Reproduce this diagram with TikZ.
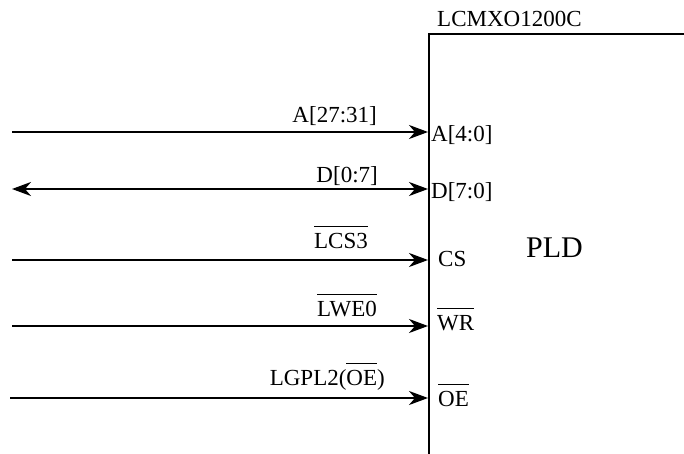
\documentclass[tikz,border=0pt]{standalone}
\usepackage{fontspec}
\setmainfont{Liberation Serif}
\usetikzlibrary{arrows.meta}
\newcommand\ovl[1]{\leavevmode\vbox{\hrule height 1.7pt\kern 5.5pt\hbox{#1}}}
\tikzset{
  tip/.tip={Stealth[length=19pt,width=14pt,inset=6pt]},
  sig/.style={line width=2.2pt,-tip},
  bisig/.style={line width=2.2pt,tip-tip},
  lbl/.style={inner sep=0pt,anchor=base east,font=\fontsize{23}{27}\selectfont},
  pin/.style={inner sep=0pt,anchor=base west,font=\fontsize{23}{27}\selectfont},
  chip/.style={line width=2.8pt}
}
\begin{document}
\begin{tikzpicture}[x=1pt,y=-1pt]
\useasboundingbox (0,0) rectangle (684,454);
% chip outline
\coordinate (bt) at (429,454);
\coordinate (tl) at (429,34);
\coordinate (tr) at (684,34);
\draw[chip] (bt) -- (tl) -- (tr);
\node[pin] (chipname) at (437,27) {LCMXO1200C};
\node[inner sep=0pt,anchor=base west,font=\fontsize{30}{34}\selectfont] (pld) at (526,257) {PLD};
% signal end points
\coordinate (sA) at (12,132); \coordinate (eA) at (428,132);
\coordinate (sD) at (12,189); \coordinate (eD) at (428,189);
\coordinate (sC) at (12,260); \coordinate (eC) at (428,260);
\coordinate (sW) at (12,326); \coordinate (eW) at (428,326);
\coordinate (sO) at (10,398); \coordinate (eO) at (428,398);
\draw[sig] (sA) -- (eA);
\draw[bisig] (sD) -- (eD);
\draw[sig] (sC) -- (eC);
\draw[sig] (sW) -- (eW);
\draw[sig] (sO) -- (eO);
% signal labels
\node[lbl] (lA) at (377,123) {A[27:31]};
\node[lbl] (lD) at (378,183) {D[0:7]};
\node[lbl] (lC) at (368,248) {\ovl{LCS3}};
\node[lbl] (lW) at (377,316) {\ovl{LWE0}};
\node[lbl] (lO) at (385,385) {LGPL2(\ovl{OE})};
% pin labels
\node[pin] (pA) at (431,142) {A[4:0]};
\node[pin] (pD) at (431,198) {D[7:0]};
\node[pin] (pC) at (438,266) {CS};
\node[pin] (pW) at (437,330) {\ovl{WR}};
\node[pin] (pO) at (438,406) {\ovl{OE}};
\end{tikzpicture}
\end{document}
